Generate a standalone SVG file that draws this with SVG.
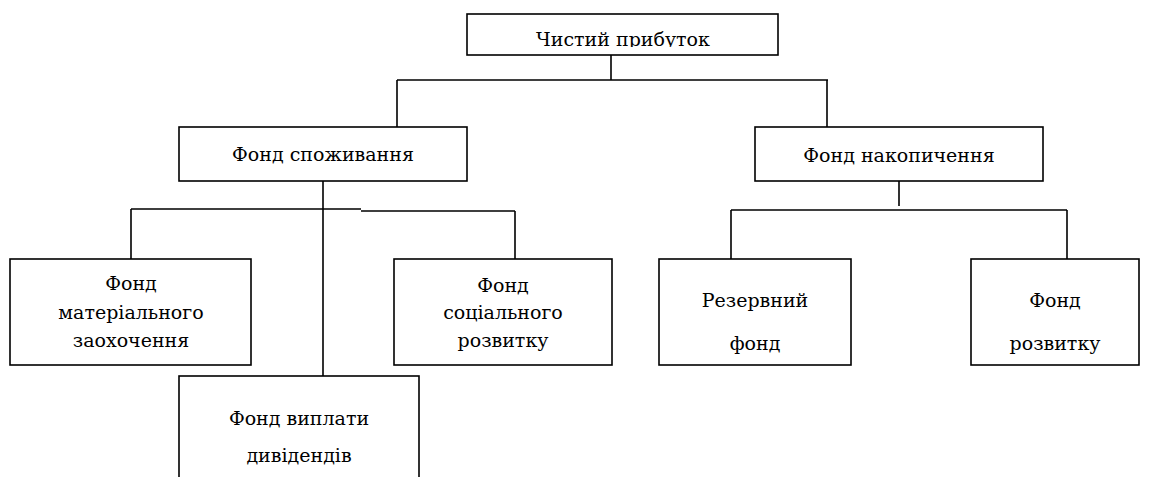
<svg xmlns="http://www.w3.org/2000/svg" width="1151" height="477" viewBox="0 0 1151 477">
<style>
.box{fill:#fff;stroke:#000;stroke-width:1.6}
.ln{fill:none;stroke:#000;stroke-width:1.6}
.t{font-family:'DejaVu Serif','Liberation Serif',serif;font-size:19px;fill:#000;text-anchor:middle}
</style>
<defs>
<clipPath id="topclip"><rect x="467" y="14" width="311" height="33"/></clipPath>
</defs>
<rect width="1151" height="477" fill="#fff"/>
<g id="connectors">
<path class="ln" d="M611 55V80M397 80H828M397 80V127M827 80V127"/>
<path class="ln" d="M323 181V376M131 209H361M361 211H515M131 209V259M515 211V259"/>
<path class="ln" d="M899 181V206M731 210H1067M731 210V259M1067 210V259"/>
</g>
<g id="n-chystyi">
<rect class="box" x="467" y="14" width="311" height="41"/>
<text class="t" x="623" y="46" clip-path="url(#topclip)">Чистий прибуток</text>
</g>
<g id="n-spozhyvannia">
<rect class="box" x="179" y="127" width="288" height="54"/>
<text class="t" x="323" y="161">Фонд споживання</text>
</g>
<g id="n-nakopychennia">
<rect class="box" x="755" y="127" width="288" height="54"/>
<text class="t" x="899" y="162">Фонд накопичення</text>
</g>
<g id="n-material">
<rect class="box" x="10" y="259" width="241" height="106"/>
<text class="t" x="131" y="290">Фонд</text>
<text class="t" x="131" y="319">матеріального</text>
<text class="t" x="131" y="347">заохочення</text>
</g>
<g id="n-socialnyi">
<rect class="box" x="394" y="259" width="218" height="106"/>
<text class="t" x="503" y="292">Фонд</text>
<text class="t" x="503" y="319">соціального</text>
<text class="t" x="503" y="347">розвитку</text>
</g>
<g id="n-dyvidendy">
<rect class="box" x="179" y="376" width="240" height="120"/>
<text class="t" x="299" y="425">Фонд виплати</text>
<text class="t" x="299" y="462">дивідендів</text>
</g>
<g id="n-rezervnyi">
<rect class="box" x="659" y="259" width="192" height="106"/>
<text class="t" x="755" y="307">Резервний</text>
<text class="t" x="755" y="350">фонд</text>
</g>
<g id="n-rozvytok">
<rect class="box" x="971" y="259" width="168" height="106"/>
<text class="t" x="1055" y="307">Фонд</text>
<text class="t" x="1055" y="350">розвитку</text>
</g>
</svg>
